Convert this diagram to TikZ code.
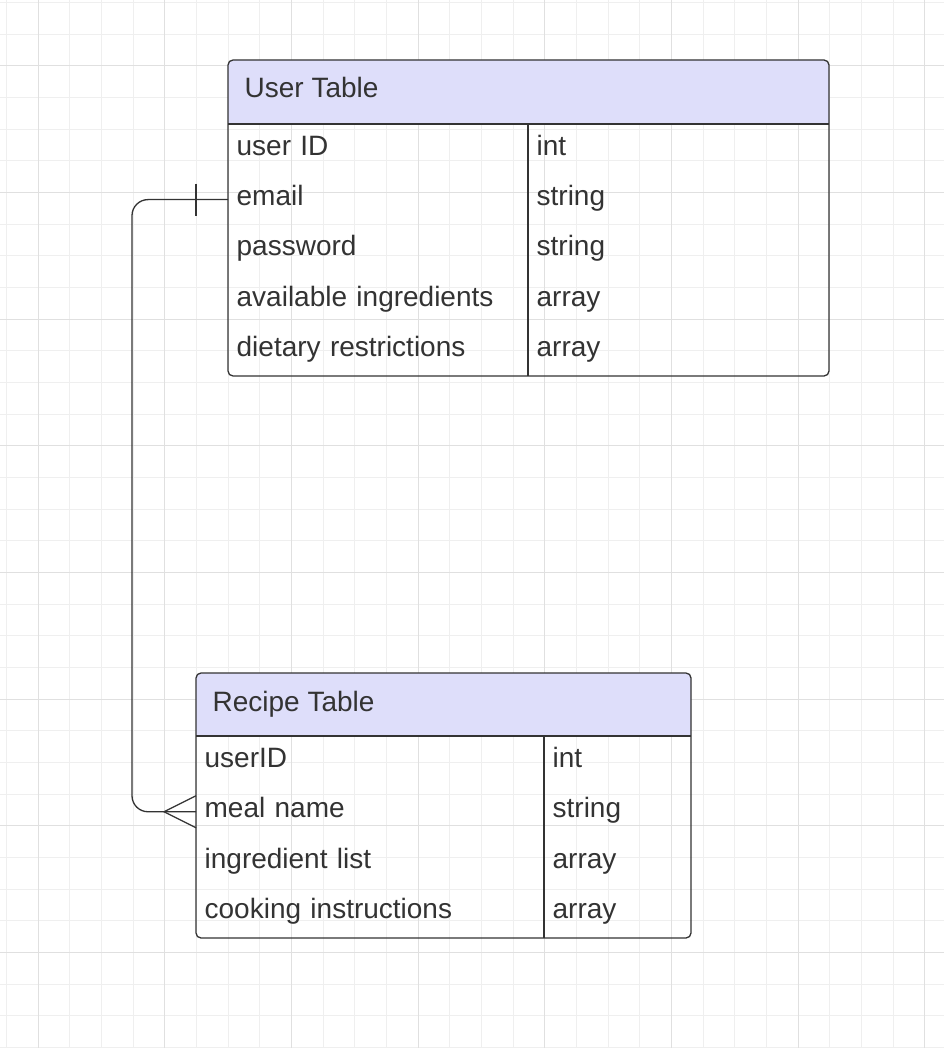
\documentclass[tikz,border=0pt]{standalone}
\usepackage{fontspec}
\setmainfont{Liberation Sans}
\definecolor{ink}{HTML}{333333}
\definecolor{hdr}{HTML}{DEDEFA}
\definecolor{gridminor}{HTML}{EFEFEF}
\definecolor{gridmajor}{HTML}{E0E0E0}

\begin{document}
\begin{tikzpicture}[x=1pt,y=-1pt,line width=1.3pt,
	field/.style={anchor=west,text width=#1,align=left,minimum height=50.4pt,inner xsep=8pt,
		text height=19pt,text depth=7pt,text=ink,font=\fontsize{28}{34}\selectfont},
	field/.default=284pt,
	title/.style={anchor=west,inner xsep=16pt,text height=19pt,text depth=7pt,text=ink,
		font=\fontsize{28}{34}\selectfont}]
	\useasboundingbox (0,0) rectangle (944,1048);
	\fill[white] (0,0) rectangle (944,1048);
	% grid
	\foreach \k in {0,...,29}
		\draw[gridminor,line width=1pt] ({6.64+31.66*\k},0) -- ({6.64+31.66*\k},1048);
	\foreach \k in {0,...,33}
		\draw[gridminor,line width=1pt] (0,{2.68+31.66*\k}) -- (944,{2.68+31.66*\k});
	\foreach \k in {0,...,7}
		\draw[gridmajor,line width=1pt] ({38.3+126.64*\k},0) -- ({38.3+126.64*\k},1048);
	\foreach \k in {0,...,7}
		\draw[gridmajor,line width=1pt] (0,{66+126.64*\k}) -- (944,{66+126.64*\k});

	% user table
	\fill[hdr] (228,124) [rounded corners=5pt] -- (228,60) -- (829,60) [sharp corners] -- (829,124) -- cycle;
	\draw[ink,rounded corners=5pt] (228,60) rectangle (829,376);
	\draw[ink] (228,124) -- (829,124);
	\draw[ink] (528,124) -- (528,376);
	\node[title] (user) at (228,92) {User Table};
	\foreach \name/\type [count=\i] in {user ID/int,email/string,password/string,
		available ingredients/array,dietary restrictions/array} {
		\node[field] (u\i) at (228,{124+50.4*\i-25.2}) {\name};
		\node[field=285pt] (ut\i) at (528,{124+50.4*\i-25.2}) {\type};
	}

	% recipe table
	\fill[hdr] (196,736) [rounded corners=5pt] -- (196,673) -- (691,673) [sharp corners] -- (691,736) -- cycle;
	\draw[ink,rounded corners=5pt] (196,673) rectangle (691,938);
	\draw[ink] (196,736) -- (691,736);
	\draw[ink] (544,736) -- (544,938);
	\node[title] (recipe) at (196,705) {Recipe Table};
	\foreach \name/\type [count=\i] in {userID/int,meal name/string,
		ingredient list/array,cooking instructions/array} {
		\node[field=332pt] (r\i) at (196,{736+50.5*\i-25.25}) {\name};
		\node[field=131pt] (rt\i) at (544,{736+50.5*\i-25.25}) {\type};
	}

	% one user -- many recipes
	\draw[ink,rounded corners=16pt] (u2.west) -- ++(-96,0) |- (r2.west);
	\draw[ink] ([xshift=-32pt]u2.west) ++(0,-16) -- ++(0,32);
	\draw[ink] (r2.west) ++(0,-16) -- ++(-32,16) -- ++(32,16);
\end{tikzpicture}
\end{document}
